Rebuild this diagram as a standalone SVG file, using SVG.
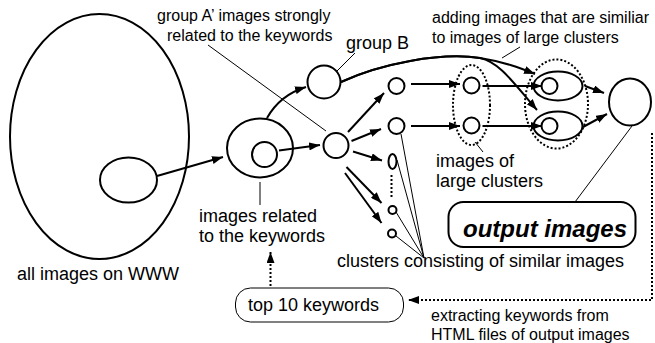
<svg xmlns="http://www.w3.org/2000/svg" width="655" height="343" viewBox="0 0 655 343">
<defs>
<marker id="ah" markerUnits="userSpaceOnUse" markerWidth="11" markerHeight="8" refX="11" refY="4" orient="auto">
<path d="M0,0 L11,4 L0,8 z" fill="#000"/>
</marker>
</defs>
<style>
.s{fill:none;stroke:#000;stroke-width:2}
.t{fill:none;stroke:#000;stroke-width:1}
.d{fill:none;stroke:#000;stroke-width:2;stroke-dasharray:2 2}
.a{fill:none;stroke:#000;stroke-width:2;marker-end:url(#ah)}
.da{fill:none;stroke:#000;stroke-width:2;stroke-dasharray:2 2;marker-end:url(#ah)}
text{font-family:"Liberation Sans",Arial,sans-serif;fill:#000}
.f16{font-size:16px}
.f18{font-size:18px}
.big{font-size:24px;font-weight:bold;font-style:italic}
</style>
<rect width="655" height="343" fill="#fff"/>

<g id="www">
<ellipse class="s" cx="99.5" cy="136.5" rx="89.5" ry="122.5"/>
<ellipse class="s" cx="128.5" cy="180" rx="28.5" ry="22.5"/>
<text class="f18" x="17" y="280">all images on WWW</text>
</g>

<g id="related">
<ellipse class="s" cx="260" cy="148" rx="33" ry="29.5"/>
<circle class="s" cx="264.5" cy="154.5" r="12.5"/>
<text class="f18" x="199" y="222">images related</text>
<text class="f18" x="199" y="242">to the keywords</text>
</g>

<g id="groupB">
<circle class="s" cx="324" cy="82" r="16.5"/>
<text class="f18" x="346" y="49">group B</text>
</g>

<g id="groupA">
<circle class="s" cx="336" cy="145.5" r="12.5"/>
<text class="f16" x="157" y="21">group A’ images strongly</text>
<text class="f16" x="167" y="41">related to the keywords</text>
</g>

<g id="clusters">
<circle class="s" cx="396.5" cy="86" r="8"/>
<circle class="s" cx="396.5" cy="126" r="8"/>
<ellipse class="s" cx="392.5" cy="161.5" rx="4" ry="7.5"/>
<line class="d" x1="391.5" y1="175" x2="391.5" y2="197"/>
<circle class="s" cx="392.5" cy="210" r="4"/>
<circle class="s" cx="392" cy="233.5" r="4"/>
<text class="f18" x="337" y="267">clusters consisting of similar images</text>
</g>

<g id="large">
<ellipse class="d" cx="471.5" cy="105" rx="18.5" ry="40"/>
<circle class="s" cx="471.5" cy="85.5" r="8"/>
<circle class="s" cx="471.5" cy="125.5" r="8"/>
<text class="f18" x="436" y="167">images of</text>
<text class="f18" x="436" y="187">large clusters</text>
</g>

<g id="added">
<ellipse class="d" cx="556.5" cy="104" rx="31.5" ry="44.5"/>
<ellipse class="s" cx="558" cy="86" rx="24.5" ry="14.5"/>
<ellipse class="s" cx="558" cy="126" rx="24.5" ry="14.5"/>
<circle class="s" cx="549.5" cy="86" r="8"/>
<circle class="s" cx="549.5" cy="126" r="8"/>
<text class="f16" x="432" y="23">adding images that are similiar</text>
<text class="f16" x="432" y="43">to images of large clusters</text>
</g>

<g id="output">
<ellipse class="s" cx="630" cy="102" rx="21" ry="23.5"/>
<rect class="s" x="448.5" y="202" width="187" height="45" rx="15" ry="15"/>
<text class="big" x="463" y="237">output images</text>
</g>

<g id="keywords">
<rect class="t" x="235.5" y="288" width="168" height="34" rx="15" ry="15"/>
<text class="f18" x="248" y="311">top 10 keywords</text>
</g>

<g id="extract">
<text class="f16" x="431" y="321">extracting keywords from</text>
<text class="f16" x="431" y="340">HTML files of output images</text>
</g>

<g id="connectors">
<line class="a" x1="157" y1="176" x2="223" y2="157"/>
<path class="a" d="M267,118 Q280,95 306,87"/>
<line class="a" x1="279" y1="150.5" x2="320" y2="145"/>
<line class="a" x1="348" y1="132" x2="384" y2="93"/>
<line class="a" x1="351.5" y1="141" x2="381" y2="129"/>
<line class="a" x1="353" y1="151.5" x2="382" y2="160.5"/>
<line class="a" x1="346.5" y1="167" x2="381.5" y2="203"/>
<line class="a" x1="345" y1="173" x2="381.5" y2="223"/>
<line class="a" x1="411" y1="84" x2="460" y2="84"/>
<line class="a" x1="411" y1="126" x2="460" y2="126"/>
<line class="a" x1="482.5" y1="86" x2="542" y2="86"/>
<line class="a" x1="482.5" y1="126" x2="542" y2="126"/>
<path class="a" d="M341,82 C380,64 440,52 480,58 C505,62 520,68 535,74"/>
<path class="a" d="M341,82 C380,64 440,52 480,58 C500,62 515,85 537,110"/>
<line class="a" x1="585" y1="86" x2="604" y2="93"/>
<line class="a" x1="583" y1="127" x2="607" y2="114"/>
<path class="da" d="M652,133 L652,300 L408,300"/>
<line class="da" x1="270.5" y1="286" x2="270.5" y2="252"/>
<line class="t" x1="260" y1="182" x2="260" y2="205"/>
<line class="t" x1="337" y1="71" x2="355" y2="53"/>
<line class="t" x1="208" y1="45" x2="326" y2="131"/>
<line class="t" x1="520" y1="47" x2="502" y2="58"/>
<line class="t" x1="475" y1="142" x2="483" y2="152"/>
<line class="t" x1="632" y1="126" x2="575" y2="202"/>
<line class="t" x1="401" y1="134" x2="424" y2="258"/>
<line class="t" x1="397" y1="160" x2="424" y2="258"/>
<line class="t" x1="396" y1="212" x2="424" y2="258"/>
<line class="t" x1="396" y1="236" x2="424" y2="258"/>
</g>
</svg>
